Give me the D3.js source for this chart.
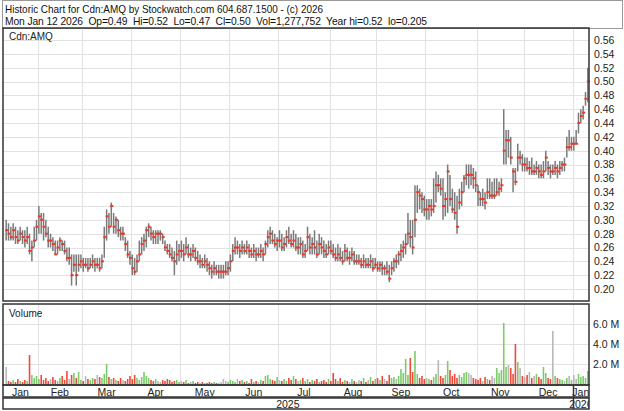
<!DOCTYPE html>
<html>
<head>
<meta charset="utf-8">
<script src="https://cdn.jsdelivr.net/npm/d3@7"></script>
<style>
body { margin: 0; background: #fff; }
text { font-family: "Liberation Sans", Arial, sans-serif; }
</style>
</head>
<body>
<div id="chart"></div>
<script>
// daily highs / lows / closes (Jan 14 2025 .. Jan 12 2026)
var hi = [
 .30,.295,.29,.295,.29,.285,.29,.285,.285,.29,.28,.27,.29,.30,
 .32,.31,.31,.30,.29,.28,.275,.27,.27,.275,.27,.27,.26,.26,.25,.25,.25,.25,.25,
 .245,.245,.245,.245,.25,.245,.245,.245,.25,.29,.315,.31,.325,.31,.305,.30,.29,.29,.275,.27,.255,
 .25,.245,.25,.27,.275,.28,.29,.295,.29,.285,.285,.285,.285,.28,.27,.265,.265,.26,.255,.27,.265,
 .27,.265,.275,.265,.26,.265,.26,.255,.25,.245,.25,.245,.24,.235,.24,.235,.235,.235,.235,.24,.24,
 .25,.265,.275,.27,.265,.27,.265,.27,.265,.26,.265,.26,.26,.265,.26,.27,.285,.29,.285,.28,.275,
 .285,.28,.275,.285,.29,.28,.285,.28,.275,.275,.27,.265,.29,.28,.275,.285,.27,.28,.275,.27,.265,.27,
 .27,.265,.26,.265,.26,.255,.265,.26,.255,.26,.255,.25,.25,.245,.25,.245,.245,.25,.245,.245,
 .24,.24,.24,.235,.24,.235,.24,.245,.25,.255,.265,.27,.28,.31,.30,.30,.35,.35,.345,.34,.335,
 .33,.33,.33,.36,.37,.365,.36,.36,.34,.38,.365,.345,.34,.335,.345,.355,.365,.38,.38,.38,.375,.37,
 .35,.34,.345,.34,.36,.36,.355,.36,.36,.355,.36,.46,.43,.43,.42,.375,.375,.41,.40,.395,
 .39,.39,.385,.39,.38,.385,.38,.38,.385,.40,.385,.38,.38,.385,.38,.385,.385,.39,.42,.43,.42,
 .42,.43,.455,.46,.465,.485,.52
];
var lo = [
 .27,.27,.27,.27,.265,.265,.27,.265,.26,.265,.25,.24,.26,.27,
 .28,.28,.27,.275,.26,.26,.255,.25,.25,.255,.255,.25,.24,.235,.205,.225,.205,.225,.23,
 .225,.23,.225,.23,.23,.225,.23,.225,.23,.245,.27,.28,.29,.28,.28,.275,.27,.27,.255,.245,.235,
 .22,.22,.225,.24,.25,.255,.26,.275,.27,.265,.265,.265,.27,.265,.255,.25,.245,.24,.22,.235,.24,
 .245,.24,.25,.245,.24,.245,.24,.235,.23,.23,.23,.225,.22,.215,.22,.22,.215,.215,.215,.22,.22,
 .225,.24,.25,.25,.245,.25,.25,.25,.245,.245,.245,.24,.245,.245,.24,.25,.26,.265,.265,.26,.255,
 .26,.255,.255,.26,.265,.26,.26,.255,.25,.25,.245,.245,.255,.25,.25,.25,.245,.25,.25,.245,.245,.25,
 .25,.245,.24,.24,.24,.235,.24,.24,.235,.24,.235,.235,.235,.23,.23,.23,.23,.23,.225,.23,
 .225,.225,.22,.22,.22,.21,.22,.225,.23,.235,.24,.245,.25,.265,.26,.25,.275,.31,.315,.31,.305,
 .30,.30,.305,.31,.325,.34,.335,.30,.305,.31,.32,.31,.30,.28,.315,.32,.34,.35,.345,.35,.345,.34,
 .32,.32,.32,.315,.33,.33,.33,.33,.335,.335,.34,.38,.38,.39,.38,.34,.35,.37,.38,.37,
 .37,.37,.365,.365,.365,.365,.36,.36,.36,.37,.365,.36,.365,.365,.36,.365,.37,.37,.39,.40,.40,
 .40,.41,.425,.44,.445,.465,.47
];
var cl = [
 .285,.28,.275,.285,.275,.27,.28,.275,.27,.275,.255,.26,.27,.29,
 .305,.30,.29,.28,.27,.27,.265,.25,.26,.27,.265,.255,.245,.245,.22,.235,.22,.235,.24,
 .235,.235,.23,.235,.24,.235,.235,.23,.24,.275,.305,.29,.32,.29,.30,.285,.28,.28,.265,.25,.245,
 .23,.225,.24,.25,.265,.27,.285,.29,.28,.275,.28,.28,.28,.275,.26,.255,.25,.245,.24,.25,.255,
 .255,.25,.26,.25,.25,.255,.245,.24,.24,.235,.24,.235,.23,.225,.23,.225,.225,.225,.225,.225,.23,
 .24,.255,.26,.26,.255,.26,.255,.26,.255,.25,.255,.25,.25,.255,.25,.265,.275,.28,.27,.265,.27,
 .27,.26,.265,.275,.27,.265,.27,.26,.26,.265,.25,.255,.275,.26,.265,.26,.25,.265,.26,.255,.25,.26,
 .255,.25,.245,.25,.245,.24,.255,.245,.245,.25,.24,.24,.24,.235,.24,.235,.235,.24,.23,.235,
 .23,.235,.23,.23,.225,.215,.23,.24,.24,.25,.255,.26,.265,.28,.275,.26,.30,.34,.335,.33,.315,
 .315,.32,.315,.32,.35,.35,.345,.32,.33,.37,.33,.315,.31,.29,.325,.34,.36,.365,.365,.365,.36,.35,
 .34,.33,.33,.325,.34,.335,.335,.335,.34,.345,.35,.40,.415,.415,.39,.37,.355,.39,.39,.38,
 .38,.375,.375,.37,.37,.375,.37,.365,.37,.39,.375,.37,.37,.375,.37,.375,.38,.38,.405,.405,.41,
 .41,.41,.44,.45,.455,.475,.50
];
// daily volume, millions of shares
var vol = [
 1.7,0.3,0.2,0.4,0.2,0.5,0.3,0.2,0.4,0.3,2.9,0.9,0.6,0.8,
 0.5,0.9,0.4,0.6,0.3,0.5,0.7,0.4,0.3,0.6,0.8,0.4,1.3,0.5,0.9,1.1,0.6,1.2,0.4,
 0.3,0.8,0.5,0.4,0.6,0.5,0.9,0.7,0.6,1.0,2.0,0.7,0.5,0.6,0.4,0.3,0.6,0.4,0.3,0.5,0.8,
 0.5,0.9,0.6,0.4,0.7,1.2,0.8,0.6,0.4,0.3,0.5,0.3,0.2,0.4,0.3,0.5,0.4,0.2,0.3,0.4,0.2,
 0.3,0.2,0.4,0.1,0.2,0.3,0.1,0.2,0.1,0.2,0.1,0.1,0.2,0.1,0.2,0.1,0.1,0.2,0.5,0.3,0.2,
 0.4,0.3,0.2,0.5,0.3,0.4,0.2,0.3,0.1,0.5,0.2,0.3,0.2,0.4,0.3,0.8,0.9,0.5,0.4,0.3,0.7,
 0.4,0.3,0.5,0.3,0.6,0.4,0.8,0.5,0.3,0.4,0.6,0.3,0.5,0.2,0.4,0.3,0.5,0.2,0.3,0.4,0.2,0.5,
 0.3,1.1,0.5,0.3,0.6,0.2,0.4,0.3,0.2,0.5,0.3,0.2,0.4,0.3,0.6,0.2,0.4,0.7,0.3,0.5,
 0.6,0.4,0.8,0.5,0.3,0.9,0.6,0.7,0.5,0.8,1.5,1.1,2.5,0.9,2.6,1.2,3.3,1.0,0.6,0.8,0.5,
 0.6,0.5,0.4,0.7,1.0,2.4,0.8,0.6,0.9,2.3,1.4,0.8,1.0,0.6,0.9,0.7,1.1,1.2,1.1,0.9,0.6,0.5,
 0.4,0.6,0.3,0.7,0.5,0.4,0.8,0.6,1.6,1.1,1.4,6.1,1.7,1.9,1.6,1.0,4.0,2.2,1.6,0.8,
 0.7,0.9,1.2,0.6,0.8,1.0,0.7,0.5,1.7,1.1,0.6,0.5,5.3,0.8,0.6,0.5,0.4,0.3,0.6,0.8,0.4,
 0.9,0.5,1.0,0.7,0.8,0.6,1.3
];

var priceTicks = [0.20,0.22,0.24,0.26,0.28,0.30,0.32,0.34,0.36,0.38,0.40,0.42,0.44,0.46,0.48,0.50,0.52,0.54,0.56];
var volTicks = [2, 4, 6];
var monthNames = ["Jan","Feb","Mar","Apr","May","Jun","Jul","Aug","Sep","Oct","Nov","Dec"];
var holidays = ["2025-02-17","2025-04-18","2025-05-19","2025-07-01","2025-08-04","2025-09-01","2025-10-13","2025-12-25","2025-12-26","2026-01-01"];
var header1 = "Historic Chart for Cdn:AMQ by Stockwatch.com 604.687.1500 - (c) 2026";
var header2 = "Mon Jan 12 2026  Op=0.49  Hi=0.52  Lo=0.47  Cl=0.50  Vol=1,277,752  Year hi=0.52  lo=0.205";

// trading days on the x axis
var fmt = d3.timeFormat("%Y-%m-%d");
var days = [];
for (var d = new Date(2025, 0, 14); d <= new Date(2026, 0, 12); d.setDate(d.getDate() + 1)) {
	if (d.getDay() == 0 || d.getDay() == 6) continue;
	if (holidays.indexOf(fmt(d)) >= 0) continue;
	days.push(new Date(d));
}
var n = Math.min(days.length, hi.length, lo.length, cl.length, vol.length);

window.w = 624;
window.h = 411;
var left = 3, right = 589;
var pTop = 28, pBot = 301, vTop = 304, vBot = 385;

var svg = d3.select("#chart").append("svg")
	.attr("width", w).attr("height", h);

var x = d3.scaleLinear().domain([0, days.length]).range([5, right]);
var y = d3.scaleLinear().domain([0.20, 0.56]).range([289, 40]);
var yv = d3.scaleLinear().domain([0, 6]).range([vBot - 1, 324]);

// month boundaries
var months = [];
days.forEach(function(dd, i) {
	if (i == 0 || dd.getMonth() != days[i - 1].getMonth()) months.push({i: i, m: dd.getMonth(), y: dd.getFullYear()});
});
months.forEach(function(m, k) {
	m.x0 = k == 0 ? left : x(m.i);
	m.x1 = k == months.length - 1 ? right : x(months[k + 1].i);
});
var bounds = months.slice(1).map(function(m) { return m.x0; });

// header
svg.append("rect").attr("x", 2.5).attr("y", 0.5).attr("width", 620).attr("height", pTop)
	.attr("fill", "none").attr("stroke", "#999");
svg.append("text").attr("x", 5).attr("y", 13).attr("font-size", 10.3).attr("fill", "#111")
	.attr("textLength", 318).attr("lengthAdjust", "spacingAndGlyphs").text(header1);
svg.append("text").attr("x", 5).attr("y", 24.5).attr("font-size", 10.3).attr("fill", "#111")
	.attr("textLength", 422).attr("lengthAdjust", "spacing")
	.style("white-space", "pre").text(header2);

// gridlines
var grid = svg.append("g").attr("stroke", "#e2e2e2").attr("stroke-width", 1);
grid.selectAll(".hp").data(priceTicks).enter().append("line")
	.attr("x1", left).attr("x2", right)
	.attr("y1", function(d) { return Math.round(y(d)) + 0.5; })
	.attr("y2", function(d) { return Math.round(y(d)) + 0.5; });
grid.selectAll(".hv").data(volTicks).enter().append("line")
	.attr("x1", left).attr("x2", right)
	.attr("y1", function(d) { return Math.round(yv(d)) + 0.5; })
	.attr("y2", function(d) { return Math.round(yv(d)) + 0.5; });
grid.selectAll(".vp").data(bounds).enter().append("line")
	.attr("x1", function(d) { return Math.round(d) + 0.5; })
	.attr("x2", function(d) { return Math.round(d) + 0.5; })
	.attr("y1", pTop).attr("y2", pBot);
grid.selectAll(".vv").data(bounds).enter().append("line")
	.attr("x1", function(d) { return Math.round(d) + 0.5; })
	.attr("x2", function(d) { return Math.round(d) + 0.5; })
	.attr("y1", vTop).attr("y2", vBot);

// price bars
var bars = d3.range(n);
svg.append("g").selectAll("line").data(bars).enter().append("line")
	.attr("x1", function(i) { return x(i + 0.5); })
	.attr("x2", function(i) { return x(i + 0.5); })
	.attr("y1", function(i) { return y(hi[i]); })
	.attr("y2", function(i) { return y(lo[i]); })
	.attr("stroke", "#7a7a7a").attr("stroke-width", 1.5);
svg.append("g").selectAll("rect").data(bars).enter().append("rect")
	.attr("x", function(i) { return x(i + 0.5) - 1; })
	.attr("y", function(i) { return y(cl[i]) - 1; })
	.attr("width", 3).attr("height", 2)
	.attr("fill", "#e8392a");

// volume bars, coloured by change in close
function volColor(i) {
	if (i == 0 || cl[i] == cl[i - 1]) return "#b8b8b8";
	return cl[i] > cl[i - 1] ? "#7ccb6b" : "#f0493a";
}
svg.append("g").selectAll("rect").data(bars).enter().append("rect")
	.attr("x", function(i) { return x(i + 0.5) - 0.8; })
	.attr("y", function(i) { return yv(vol[i]); })
	.attr("width", 1.6)
	.attr("height", function(i) { return yv(0) - yv(vol[i]); })
	.attr("fill", volColor);

// panel labels
svg.append("text").attr("x", 9).attr("y", 40).attr("font-size", 10).attr("fill", "#222").text("Cdn:AMQ");
svg.append("text").attr("x", 9).attr("y", 317).attr("font-size", 10).attr("fill", "#222").text("Volume");

// right axes
var pAxis = svg.append("g").attr("transform", "translate(" + right + ",0)")
	.call(d3.axisRight(y).tickValues(priceTicks).tickFormat(d3.format(".2f")).tickSize(0).tickPadding(5));
var vAxis = svg.append("g").attr("transform", "translate(" + right + ",0)")
	.call(d3.axisRight(yv).tickValues(volTicks).tickFormat(function(d) { return d.toFixed(1) + " M"; }).tickSize(0).tickPadding(4));
[pAxis, vAxis].forEach(function(a) {
	a.select(".domain").remove();
	a.selectAll("text").attr("font-size", 10.5).attr("fill", "#222")
		.style("font-family", "'Liberation Sans', Arial, sans-serif");
});

// month and year rows
svg.append("clipPath").attr("id", "axclip").append("rect")
	.attr("x", left).attr("y", vBot).attr("width", right - left).attr("height", 26);
var ax = svg.append("g").attr("clip-path", "url(#axclip)");
ax.selectAll(".mlab").data(months).enter().append("text")
	.attr("x", function(m) { return (m.x0 + m.x1) / 2; })
	.attr("y", 396).attr("text-anchor", "middle").attr("font-size", 10.5).attr("fill", "#222")
	.text(function(m) { return monthNames[m.m]; });
var years = [];
months.forEach(function(m) {
	if (years.length == 0 || years[years.length - 1].y != m.y) years.push({y: m.y, x0: m.x0, x1: m.x1});
	else years[years.length - 1].x1 = m.x1;
});
ax.selectAll(".ylab").data(years).enter().append("text")
	.attr("x", function(d) { return (d.x0 + d.x1) / 2; })
	.attr("y", 408).attr("text-anchor", "middle").attr("font-size", 10.5).attr("fill", "#222")
	.text(function(d) { return d.y; });
years.slice(1).forEach(function(d) {
	svg.append("line").attr("x1", Math.round(d.x0) + 0.5).attr("x2", Math.round(d.x0) + 0.5)
		.attr("y1", vBot).attr("y2", 409).attr("stroke", "#333").attr("stroke-width", 1.5);
});

// panel frames
var frame = svg.append("g").attr("fill", "none").attr("stroke", "#333").attr("stroke-width", 1.5);
frame.append("rect").attr("x", left).attr("y", pTop).attr("width", right - left).attr("height", pBot - pTop);
frame.append("rect").attr("x", left).attr("y", vTop).attr("width", right - left).attr("height", vBot - vTop);
frame.append("rect").attr("x", left).attr("y", vBot).attr("width", right - left).attr("height", 12);
frame.append("rect").attr("x", left).attr("y", 398).attr("width", right - left).attr("height", 11);
</script>
</body>
</html>
